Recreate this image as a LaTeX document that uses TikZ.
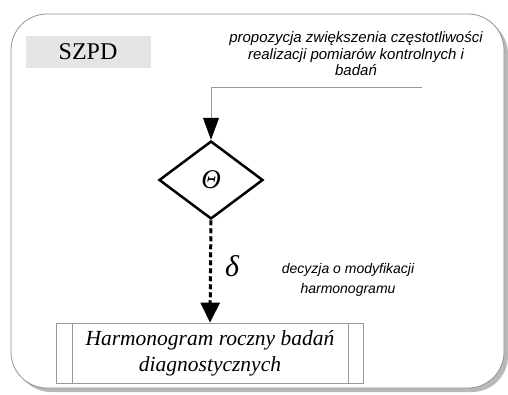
\documentclass[tikz,border=0pt]{standalone}
\usepackage{fontspec}
\setmainfont{Liberation Serif}
\newfontfamily\arialf{Liberation Sans}
\usetikzlibrary{arrows.meta,shapes.geometric}
\begin{document}
\begin{tikzpicture}[x=1pt,y=-1pt,
  frame/.style={draw=gray!85, line width=0.8pt, rounded corners=36pt, fill=white},
  shadowfill/.style={fill=gray!55, rounded corners=36pt},
  labelbox/.style={fill=gray!20, minimum width=125pt, minimum height=32pt, inner sep=0pt, font=\fontsize{24}{28}\selectfont},
  note/.style={font=\arialf\itshape\fontsize{15}{16.5}\selectfont, align=center, inner sep=0pt},
  decision/.style={diamond, draw, line width=2.5pt, minimum width=104pt, minimum height=78pt, aspect=1.33, inner sep=0pt},
  conn/.style={draw=gray!80, line width=0.8pt},
  tipblack/.style={-{Triangle[length=22pt,width=16pt,color=black]}},
  flow/.style={line width=3pt, dash pattern=on 5pt off 3pt, -{Triangle[length=20pt,width=19pt]}},
  procbox/.style={draw=gray!80, line width=0.8pt, minimum width=307pt, minimum height=60pt, inner sep=0pt, align=center, font=\itshape\fontsize{21.5}{26}\selectfont}
]
\useasboundingbox (0,0) rectangle (508,394);
\fill[shadowfill] (15,18) rectangle (508,392);
\draw[frame] (11,14) rectangle (504,388);

\node[labelbox] (szpd) at (88,52) {SZPD};
\node[note] (prop) at (356,54) {propozycja zwiększenia częstotliwości\\realizacji pomiarów kontrolnych i\\badań};

\node[decision] (dia) at (211,180) {};
\node[font=\itshape\fontsize{27}{30}\selectfont] (theta) at (211,180) {Θ};

\coordinate (in) at (422,87);
\draw[conn,tipblack] (in) -- (in -| dia.north) -- (dia.north);

\node[procbox] (box) at (210,353) {Harmonogram roczny badań\\diagnostycznych};
\draw[gray!80, line width=0.8pt] ([xshift=16pt]box.north west) -- ([xshift=16pt]box.south west);
\draw[gray!80, line width=0.8pt] ([xshift=-16pt]box.north east) -- ([xshift=-16pt]box.south east);

\draw[flow] (dia.south) -- (box.north);

\node[font=\itshape\fontsize{30}{32}\selectfont] (delta) at (232,266) {δ};
\node[note, font=\arialf\itshape\fontsize{14}{20}\selectfont] (dec) at (348,280) {decyzja o modyfikacji\\harmonogramu};
\end{tikzpicture}
\end{document}
